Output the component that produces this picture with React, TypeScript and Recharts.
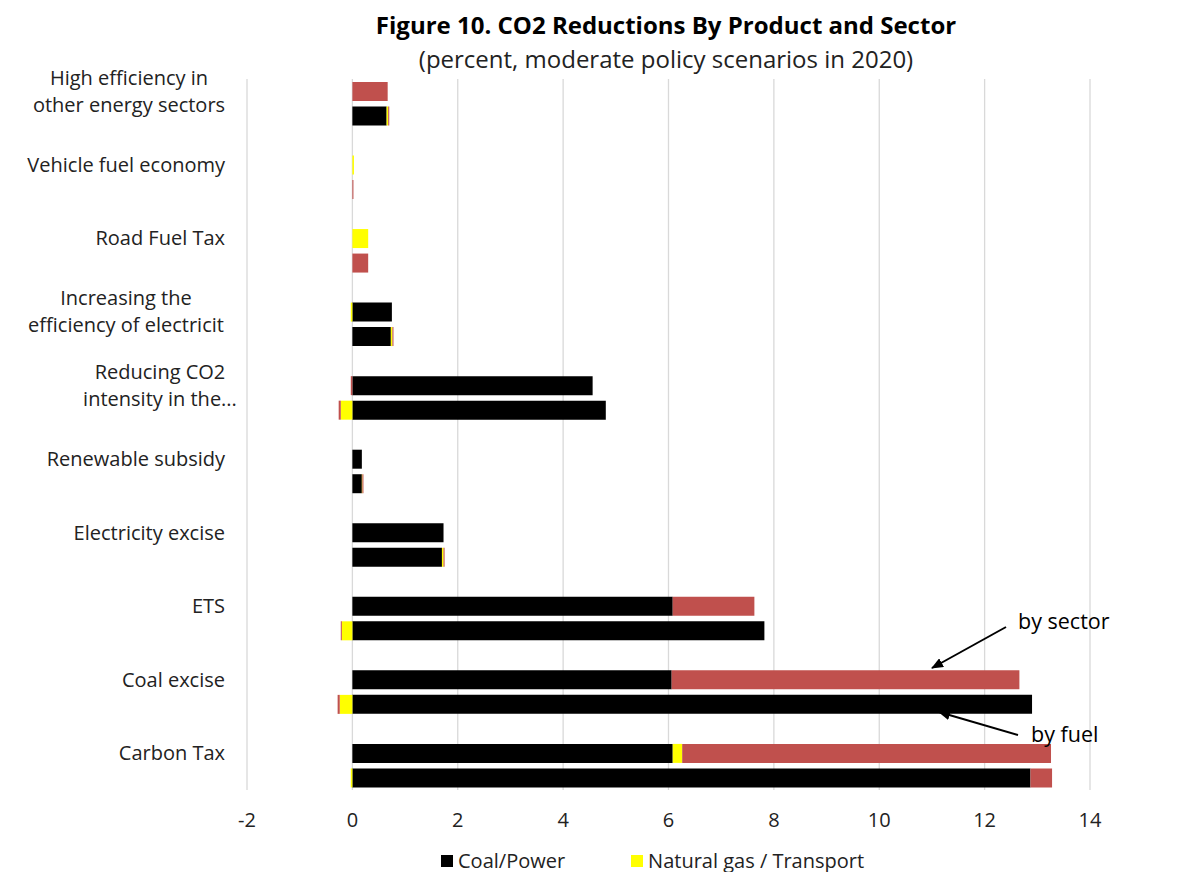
import React from 'react';
import { BarChart, Bar, XAxis, YAxis, CartesianGrid, Legend } from 'recharts';

// category labels, top to bottom (already wrapped the way the source shows them)
const categoryLines: string[][] = [
  ['High efficiency in', 'other energy sectors'],
  ['Vehicle fuel economy'],
  ['Road Fuel Tax'],
  ['Increasing the', 'efficiency of electricit'],
  ['Reducing CO2', 'intensity in the...'],
  ['Renewable subsidy'],
  ['Electricity excise'],
  ['ETS'],
  ['Coal excise'],
  ['Carbon Tax'],
];

// upper bar of each pair: by sector
const sectorPower = [0, 0, 0, 0.75, 4.56, 0.18, 1.73, 6.08, 6.06, 6.08];
const sectorTransport = [0, 0.03, 0.3, -0.03, 0, 0, 0, 0, 0, 0.18];
const sectorIndustry = [0.67, 0, 0, 0, -0.03, 0, 0, 1.55, 6.6, 7.0];

// lower bar of each pair: by fuel
const fuelCoal = [0.65, 0, 0, 0.73, 4.81, 0.18, 1.7, 7.82, 12.9, 12.87];
const fuelGas = [0.03, 0, 0, 0.03, -0.22, 0.01, 0.03, -0.2, -0.24, -0.03];
const fuelOil = [0.02, 0.02, 0.3, 0.02, -0.04, 0.02, 0.02, -0.02, -0.04, 0.41];

const xTicks = [-2, 0, 2, 4, 6, 8, 10, 12, 14];

const SERIES = [
  { key: 'coal', name: 'Coal/Power', color: '#000000', inLegend: true },
  { key: 'gas', name: 'Natural gas / Transport', color: '#FFFF00', inLegend: true },
  { key: 'oil', name: 'Oil / Industry', color: '#C0504D', inLegend: false }, // legend entry is cut off in the source
];

const FONT = '"Open Sans", Lato, sans-serif';

// rows: sector bar, fuel bar, empty spacer (no spacer after the last pair)
const rows: any[] = [];
categoryLines.forEach((lines, i) => {
  rows.push({ key: `s${i}`, label: i, coal: sectorPower[i], gas: sectorTransport[i], oil: sectorIndustry[i] });
  rows.push({ key: `f${i}`, label: -1, coal: fuelCoal[i], gas: fuelGas[i], oil: fuelOil[i] });
  if (i < categoryLines.length - 1) rows.push({ key: `b${i}`, label: -1 });
});
const labelOf: Record<string, number> = {};
rows.forEach(r => { labelOf[r.key] = r.label; });

// where wrapped labels are centred (Excel centres wrapped text, single lines hug the axis)
const wrapCentre: Record<number, number> = { 0: 122, 3: 119, 4: 153 };

const CategoryTick = (props: any) => {
  const { y, payload } = props;
  const idx = labelOf[payload.value];
  if (idx === undefined || idx < 0) return null;
  const lines = categoryLines[idx];
  if (lines.length === 1) {
    return (
      <text x={218} y={y} dy={7} textAnchor="end" fontSize={20} fill="#222" fontFamily={FONT}>
        {lines[0]}
      </text>
    );
  }
  return (
    <text x={wrapCentre[idx]} y={y} textAnchor="middle" fontSize={20} fill="#222" fontFamily={FONT}>
      <tspan x={wrapCentre[idx]} dy={-6.5}>{lines[0]}</tspan>
      <tspan x={wrapCentre[idx]} dy={27}>{lines[1]}</tspan>
    </text>
  );
};

const renderLegend = () => (
  <div style={{ display: 'flex', paddingLeft: 434, fontFamily: FONT, fontSize: 20, color: '#222' }}>
    {SERIES.filter(s => s.inLegend).map(s => (
      <div key={s.key} style={{ display: 'flex', alignItems: 'center', marginRight: 66 }}>
        <span style={{ width: 12, height: 12, background: s.color, display: 'inline-block', marginRight: 5 }} />
        <span>{s.name}</span>
      </div>
    ))}
  </div>
);

export default function App() {
  return (
    <div style={{ position: 'relative', width: 1200, height: 880, margin: '-3px 0 0 -2px', border: '1px solid #d9d9d9', boxSizing: 'border-box', background: '#fff', overflow: 'hidden' }}>
      <BarChart
        width={1200}
        height={880}
        data={rows}
        layout="vertical"
        stackOffset="sign"
        barCategoryGap="12%"
        margin={{ top: 73, right: 117, bottom: 66, left: 0 }}
      >
        <CartesianGrid horizontal={false} stroke="#d9d9d9" strokeWidth={1.3} />
        <XAxis
          type="number"
          domain={[-2, 14]}
          ticks={xTicks}
          axisLine={false}
          tickLine={false}
          tickMargin={17}
          height={30}
          tick={{ fontSize: 20, fill: '#222', fontFamily: FONT }}
        />
        <YAxis
          type="category"
          dataKey="key"
          width={240}
          interval={0}
          axisLine={false}
          tickLine={false}
          tick={<CategoryTick />}
        />
        {SERIES.map(s => (
          <Bar
            key={s.key}
            dataKey={s.key}
            name={s.name}
            stackId="a"
            fill={s.color}
            isAnimationActive={false}
          />
        ))}
        <Legend
          verticalAlign="middle"
          align="center"
          content={renderLegend}
          wrapperStyle={{ top: 841, left: 0, width: 1200 }}
        />
      </BarChart>
      <svg width={1200} height={880} style={{ position: 'absolute', left: 0, top: 0, pointerEvents: 'none' }}>
        <defs>
          <marker id="arrowHead" markerWidth="12" markerHeight="10" refX="11" refY="5" orient="auto" markerUnits="userSpaceOnUse">
            <path d="M0,0 L12,5 L0,10 Z" fill="#000" />
          </marker>
        </defs>
        <text x={659} y={20} dy={8} textAnchor="middle" fontSize={24} fontWeight="bold" fill="#000" fontFamily={FONT}>
          Figure 10. CO2 Reductions By Product and Sector
        </text>
        <text x={659} y={54} dy={8} textAnchor="middle" fontSize={24} fill="#222" fontFamily={FONT}>
          (percent, moderate policy scenarios in 2020)
        </text>
        <text x={1011} y={615} dy={7.5} fontSize={21.5} fill="#000" fontFamily={FONT}>by sector</text>
        <line x1={999} y1={621} x2={925} y2={662} stroke="#000" strokeWidth={2} markerEnd="url(#arrowHead)" />
        <text x={1024} y={728} dy={7.5} fontSize={21.5} fill="#000" fontFamily={FONT}>by fuel</text>
        <line x1={1011} y1={729} x2={932} y2={706} stroke="#000" strokeWidth={2} markerEnd="url(#arrowHead)" />
      </svg>
    </div>
  );
}
